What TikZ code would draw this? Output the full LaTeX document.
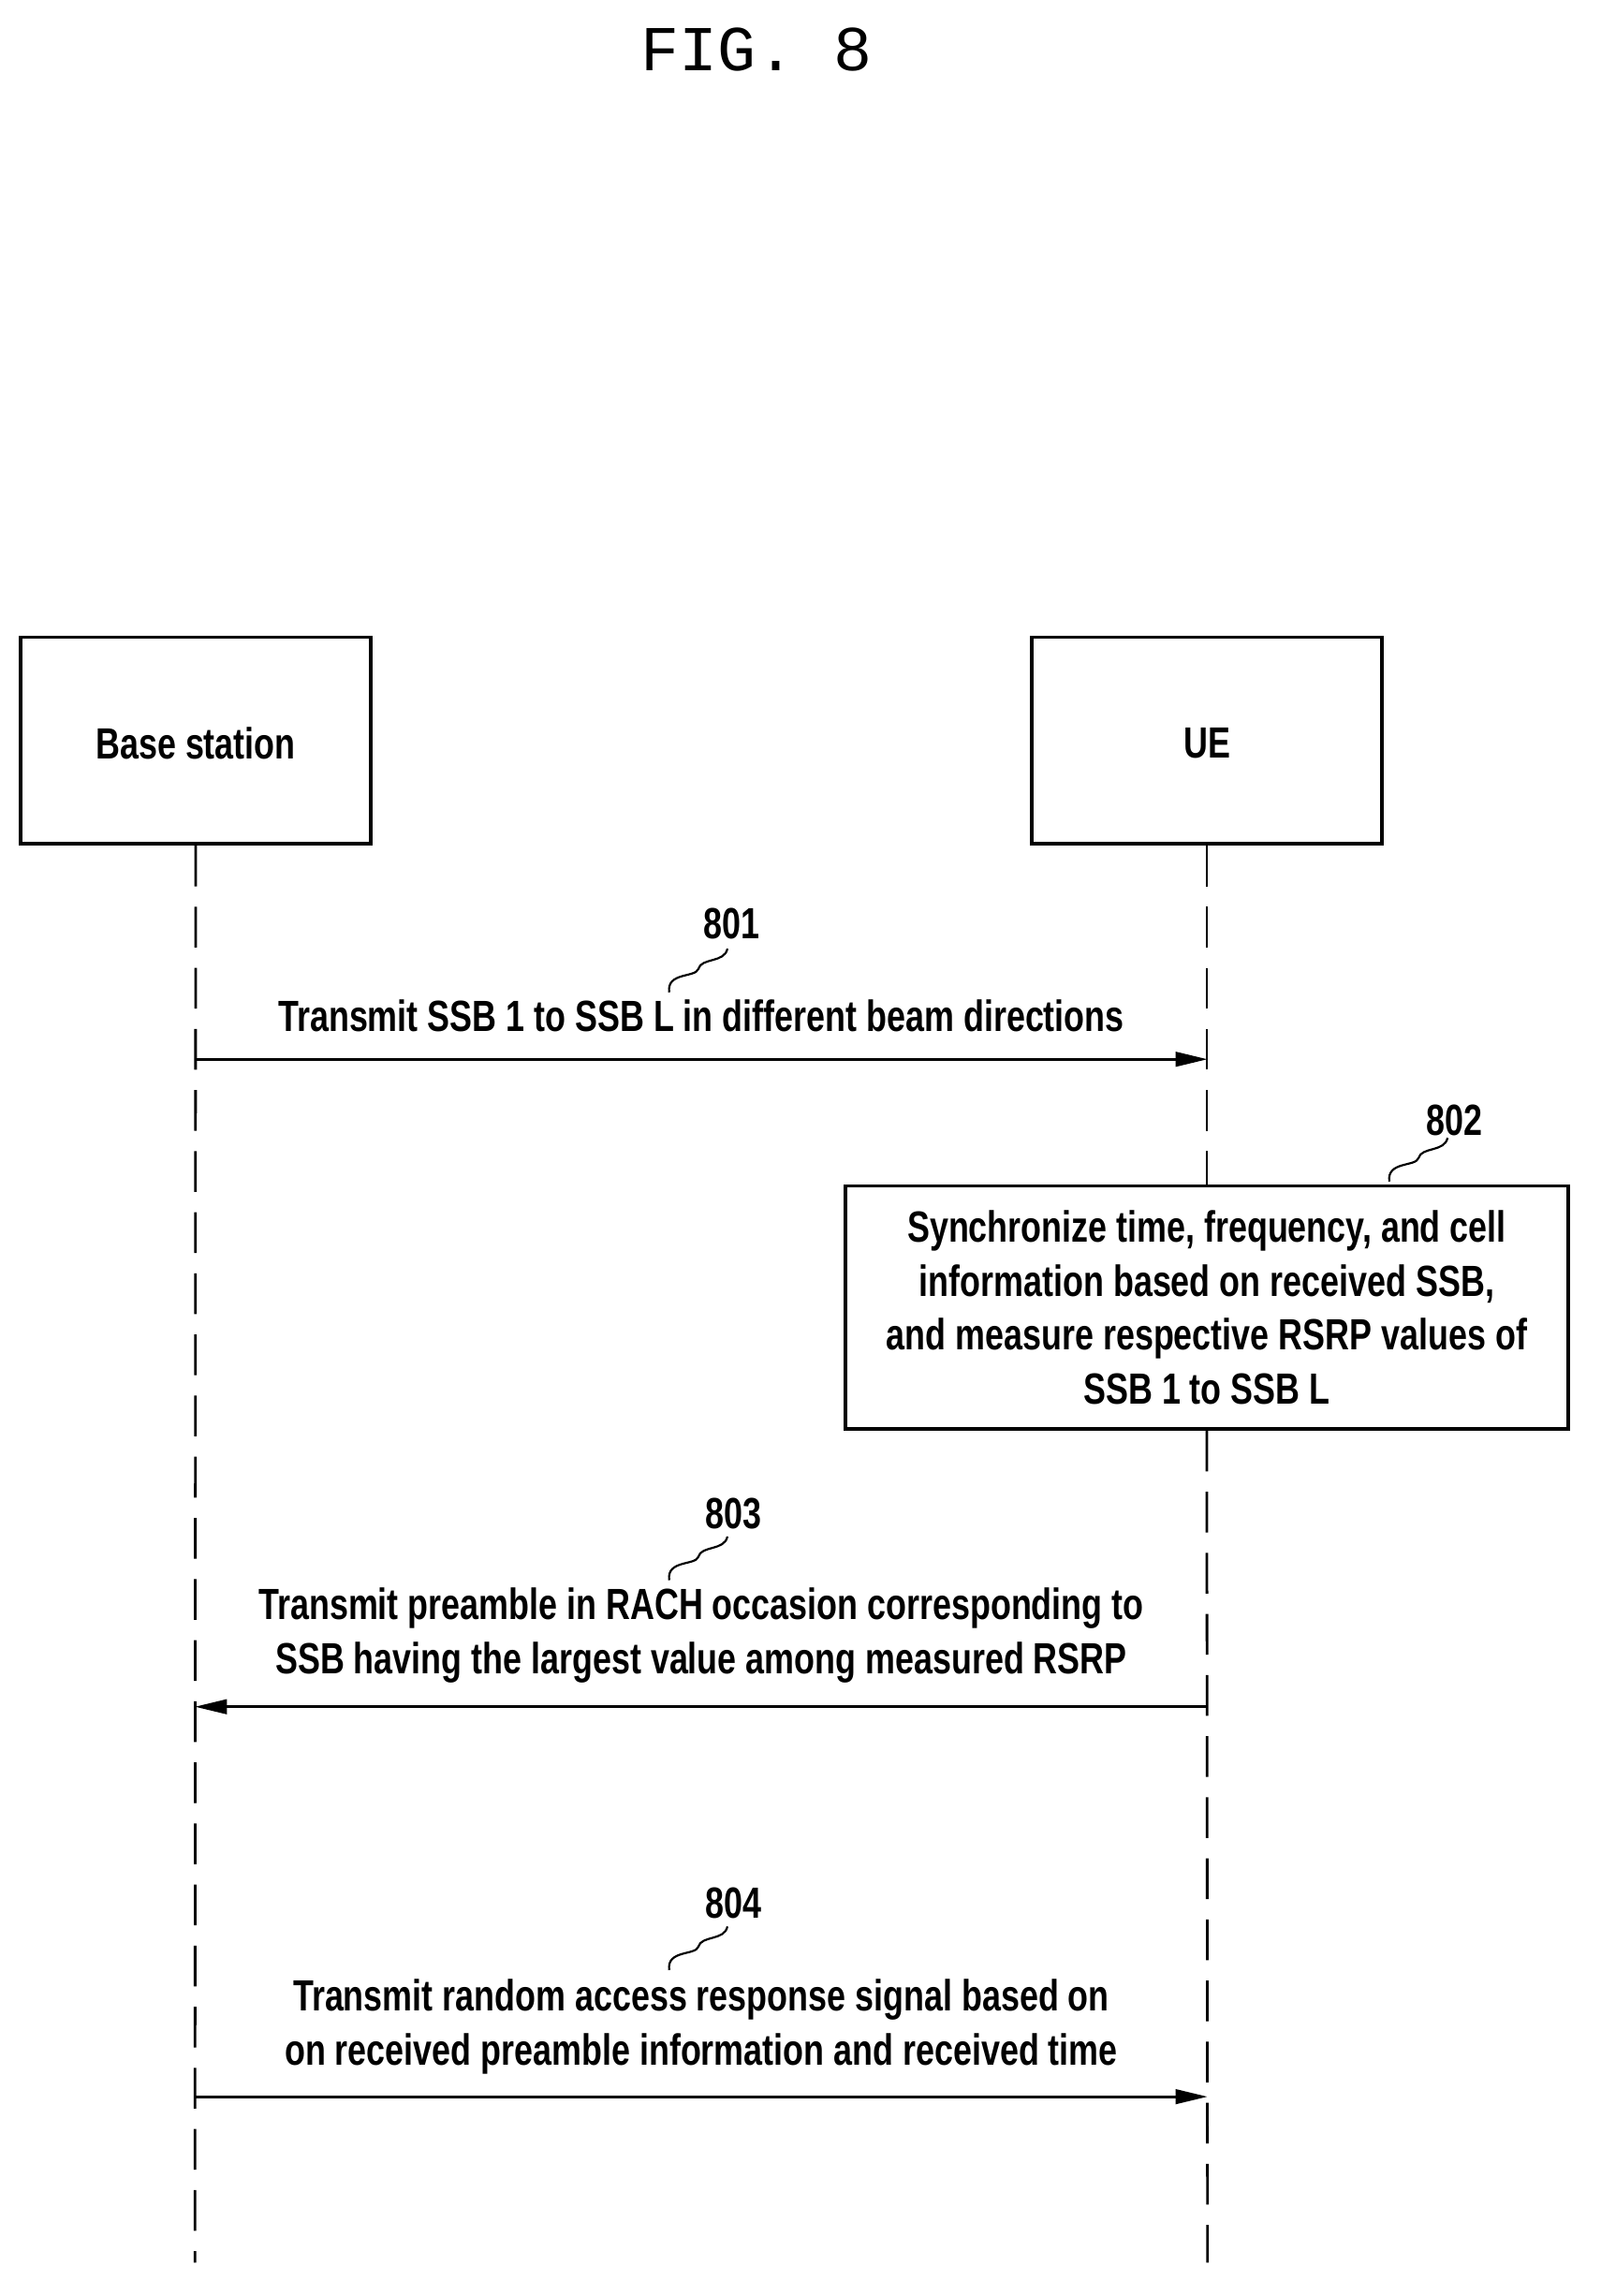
\documentclass[tikz,border=0pt]{standalone}
\usepackage{fontspec}
\setmainfont[FakeStretch=0.77]{Liberation Sans}
\newfontfamily\titlefont{Liberation Mono}
\usetikzlibrary{arrows.meta}
\begin{document}
\begin{tikzpicture}[x=0.5pt,y=-0.5pt,
  box/.style={draw,line width=1.2pt,inner sep=0pt},
  life/.style={line width=0.9pt,dash pattern=on 14pt off 7pt},
  msg/.style={line width=0.9pt,-{Triangle[length=11pt,width=5pt]}},
  lbl/.style={font=\fontsize{15}{18.5}\selectfont\bfseries,align=center},
  num/.style={font=\fontsize{15}{18}\selectfont\bfseries},
  sq/.style={line width=0.7pt}]
\useasboundingbox (0,0) rectangle (1100,1578);
\node[font=\titlefont\fontsize{22}{24}\selectfont] (title) at (520,34) {FIG. 8};
\node[box,minimum width=120.5pt,minimum height=71pt] (bs) at (134.5,509) {};
\node[lbl] (bst) at (134.5,511) {Base station};
\node[box,minimum width=120.5pt,minimum height=71pt] (ue) at (829.5,509) {};
\node[lbl] (uet) at (830,511) {UE};
\coordinate (bsend) at (134,1555);
\coordinate (ueend) at (830,1555);
\node[box,minimum width=248.5pt,minimum height=83.5pt,lbl] (s802) at (829.5,898.5)
 {Synchronize time, frequency, and cell\\information based on received SSB,\\and measure respective RSRP values of\\SSB 1 to SSB L};
\draw[life] (bs.south) -- (bsend);
\draw[life] (ue.south) -- (s802.north);
\draw[life] (s802.south) -- (ueend);
% 801
\coordinate (a1) at (134,728); \coordinate (b1) at (830,728);
\draw[msg] (a1) -- (b1);
\node[lbl] (l801) at (482,698) {Transmit SSB 1 to SSB L in different beam directions};
\node[num] (n801) at (503,635) {801};
\draw[sq] (460,682) .. controls (458,668) and (478,672) .. (480,666) .. controls (482,658) and (498,662) .. (500,652);
% 802
\node[num] (n802) at (1000,770) {802};
\draw[sq] (955,812) .. controls (953,798) and (973,802) .. (975,796) .. controls (977,788) and (993,792) .. (995,782);
% 803
\coordinate (a3) at (830,1173); \coordinate (b3) at (134,1173);
\draw[msg] (a3) -- (b3);
\node[lbl] (l803) at (482,1124) {Transmit preamble in RACH occasion corresponding to\\SSB having the largest value among measured RSRP};
\node[num] (n803) at (504,1040) {803};
\draw[sq] (460,1086) .. controls (458,1072) and (478,1076) .. (480,1070) .. controls (482,1062) and (498,1066) .. (500,1056);
% 804
\coordinate (a4) at (134,1441); \coordinate (b4) at (830,1441);
\draw[msg] (a4) -- (b4);
\node[lbl] (l804) at (482,1393) {Transmit random access response signal based on\\on received preamble information and received time};
\node[num] (n804) at (504,1308) {804};
\draw[sq] (460,1354) .. controls (458,1340) and (478,1344) .. (480,1338) .. controls (482,1330) and (498,1334) .. (500,1324);
\end{tikzpicture}
\end{document}
